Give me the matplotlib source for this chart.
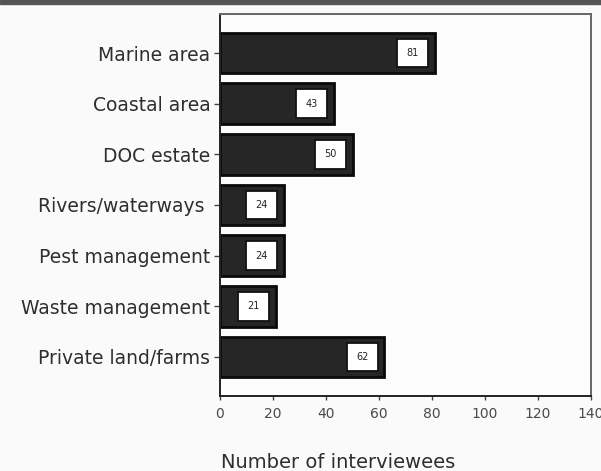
import matplotlib
matplotlib.use("Agg")
import matplotlib.pyplot as plt
from matplotlib.patches import Rectangle

categories = ["Marine area", "Coastal area", "DOC estate", "Rivers/waterways ",
              "Pest management", "Waste management", "Private land/farms"]
counts = [81, 43, 50, 24, 24, 21, 62]
xticks = [0, 20, 40, 60, 80, 100, 120, 140]

plt.rcParams["font.family"] = ["DejaVu Sans"]
text_color = "#2e2e2e"

fig = plt.figure(figsize=(6.01, 4.71), dpi=100, facecolor="#fafafa")
ax = fig.add_axes([220 / 601, 1 - 396 / 471, 371 / 601, 382 / 471])
ax.set_facecolor("#fcfcfc")

ypos = list(range(len(categories)))
bars = ax.barh(ypos, counts, height=0.8, color="#262626", edgecolor="#0a0a0a",
               linewidth=2.0)

for y, v in zip(ypos, counts):
    ax.annotate(str(v), xy=(v, y), xytext=(-16, 0), textcoords="offset points",
                ha="center", va="center", fontsize=7, color="#222222",
                bbox=dict(boxstyle="square,pad=0.95", fc="white", ec="#111111",
                          lw=1.3))

ax.set_xlim(0, 140)
ax.set_ylim(len(categories) - 1 + 0.77, -0.77)
ax.set_xticks(xticks)
ax.set_xticklabels([str(t) for t in xticks], fontsize=10, color="#4a4a4a")
ax.set_yticks(ypos)
ax.set_yticklabels(categories, fontsize=13.5, color=text_color)
ax.tick_params(axis="x", length=3, width=1, color="#444444", pad=5)
ax.tick_params(axis="y", length=4, width=1, color="#444444", pad=3)

for side in ("top", "right"):
    ax.spines[side].set_color("#666666")
    ax.spines[side].set_linewidth(1.4)
for side in ("left", "bottom"):
    ax.spines[side].set_color("#222222")
    ax.spines[side].set_linewidth(1.4)

fig.text(338 / 601, 1 - 462 / 471, "Number of interviewees", ha="center",
         va="center", fontsize=14, color=text_color)

# thin rule along the top edge
fig.patches.append(Rectangle((0, 1 - 4 / 471), 1, 4 / 471,
                             transform=fig.transFigure, color="#555555",
                             zorder=0))

fig.savefig("out.png", dpi=100, facecolor=fig.get_facecolor())
